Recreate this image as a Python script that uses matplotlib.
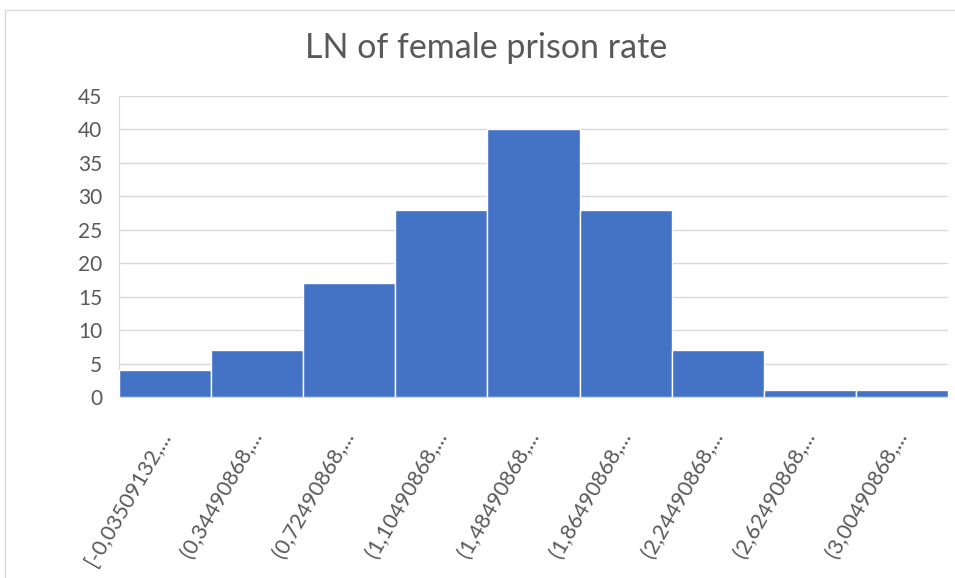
import matplotlib
matplotlib.use("Agg")
import matplotlib.pyplot as plt
from matplotlib.patches import Rectangle
from matplotlib.transforms import ScaledTranslation

# histogram bins (Excel style labels) and counts
bin_labels = ['[-0,03509132,...', '(0,34490868,...', '(0,72490868,...', '(1,10490868,...',
              '(1,48490868,...', '(1,86490868,...', '(2,24490868,...', '(2,62490868,...',
              '(3,00490868,...']
counts = [4, 7, 17, 28, 40, 28, 7, 1, 1]
y_ticks = [0, 5, 10, 15, 20, 25, 30, 35, 40, 45]

plt.rcParams['font.family'] = ['Lato', 'DejaVu Sans']

fig = plt.figure(figsize=(9.55, 5.78), dpi=100)
# light frame around the chart, like the Excel chart area
fig.patches.append(Rectangle((5 / 955, -0.01), 1.0, 1 - 10 / 578 + 0.01, transform=fig.transFigure,
                             fill=False, edgecolor='#D9D9D9', linewidth=1))

ax = fig.add_axes([119 / 955, 1 - 397 / 578, (948 - 119) / 955, (397 - 96) / 578])
x = list(range(len(counts)))
ax.bar(x, counts, width=1.0, color='#4472C4', edgecolor='white', linewidth=1, zorder=3)
ax.set_xlim(-0.5, len(counts) - 0.5)
ax.set_ylim(0, 45)
ax.set_yticks(y_ticks)
ax.yaxis.grid(True, color='#D9D9D9', linewidth=1, zorder=0)
ax.tick_params(axis='y', length=0, labelsize=15, labelcolor='#595959', pad=12)
ax.tick_params(axis='x', length=0, labelsize=15.5, labelcolor='#595959', pad=22)
ax.set_xticks(x)
ax.set_xticklabels(bin_labels, rotation=60, ha='right', va='top', rotation_mode='anchor')
# nudge the slanted labels a little to the left
shift = ScaledTranslation(-0.08, 0, fig.dpi_scale_trans)
for lab in ax.get_xticklabels():
    lab.set_transform(lab.get_transform() + shift)
for side in ['top', 'right']:
    ax.spines[side].set_visible(False)
ax.spines['bottom'].set_color('#D9D9D9')
ax.spines['left'].set_color('#D9D9D9')

fig.text(486 / 955, 1 - 48 / 578, 'LN of female prison rate', ha='center', va='center',
         fontsize=24.5, color='#595959')

plt.savefig('out.png', dpi=100)
